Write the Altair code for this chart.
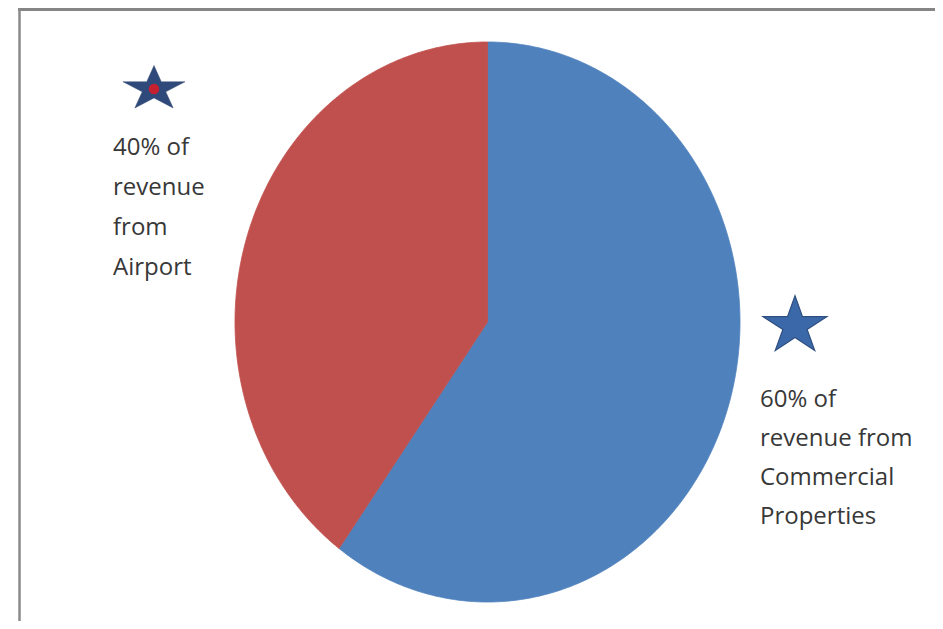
import altair as alt
import numpy as np
import pandas as pd

# ---- data ----
categories = ["Commercial Properties", "Airport"]
shares = [60, 40]
slice_colors = ["#4f81bd", "#c0504d"]
left_lines = ["40% of", "revenue", "from", "Airport"]
right_lines = ["60% of", "revenue from", "Commercial", "Properties"]

# ---- build elliptical pie outline from the shares ----
rows = []
start = 0.0
total = float(sum(shares))
for cat, v in zip(categories, shares):
    end = start + v / total
    steps = max(int((end - start) * 720), 2)
    rows.append(dict(category=cat, i=0, x=0.0, y=0.0))
    for k, t in enumerate(np.linspace(start, end, steps + 1)):
        ang = 2 * np.pi * t
        rows.append(dict(category=cat, i=k + 1, x=float(np.sin(ang)), y=float(np.cos(ang))))
    rows.append(dict(category=cat, i=steps + 2, x=0.0, y=0.0))
    start = end
pie_df = pd.DataFrame(rows)


def star_path(ysc, inner=0.38):
    pts = []
    for j in range(10):
        r = 1.0 if j % 2 == 0 else inner
        a = np.deg2rad(-90 + 36 * j)
        pts.append((r * np.cos(a), r * np.sin(a) * ysc))
    return "M" + " L".join(f"{px:.3f},{py:.3f}" for px, py in pts) + " Z"


W, H = 927, 613

pie = alt.Chart(pie_df).mark_line(filled=True, strokeWidth=0.8).encode(
    x=alt.X("x:Q", axis=None, scale=alt.Scale(domain=[-1, 1], range=[227, 732], nice=False, zero=False)),
    y=alt.Y("y:Q", axis=None, scale=alt.Scale(domain=[-1, 1], range=[594, 34], nice=False, zero=False)),
    order=alt.Order("i:Q"),
    detail="category:N",
    fill=alt.Fill("category:N", legend=None,
                  scale=alt.Scale(domain=categories, range=slice_colors)),
    stroke=alt.Stroke("category:N", legend=None,
                      scale=alt.Scale(domain=categories, range=slice_colors)),
)

one = pd.DataFrame({"a": [0]})

star1 = alt.Chart(one).mark_point(
    shape=star_path(0.72), filled=True, size=4250, color="#2f4a7a",
    stroke="#3a4f75", strokeWidth=0.5, opacity=1
).encode(x=alt.value(146), y=alt.value(81))

star1_dot = alt.Chart(one).mark_point(
    shape="circle", filled=True, size=110, color="#c4202f", opacity=1
).encode(x=alt.value(146), y=alt.value(81))

star2 = alt.Chart(one).mark_point(
    shape=star_path(0.9), filled=True, size=4500, color="#3b68a8",
    stroke="#2e4f80", strokeWidth=1.2, opacity=1
).encode(x=alt.value(787), y=alt.value(318))

txt_left = alt.Chart(one).mark_text(
    align="left", baseline="alphabetic", font="Open Sans", fontSize=24,
    lineHeight=40, color="#383838"
).encode(x=alt.value(105), y=alt.value(147), text=alt.value(left_lines))

txt_right = alt.Chart(one).mark_text(
    align="left", baseline="alphabetic", font="Open Sans", fontSize=24,
    lineHeight=39, color="#383838"
).encode(x=alt.value(752), y=alt.value(399), text=alt.value(right_lines))

frame_top = alt.Chart(one).mark_rule(color="#858585", strokeWidth=3).encode(
    x=alt.value(10), x2=alt.value(934), y=alt.value(1.5))
frame_left = alt.Chart(one).mark_rule(color="#8a8a8a", strokeWidth=2.5).encode(
    x=alt.value(11.5), y=alt.value(0), y2=alt.value(H))

chart = alt.layer(
    pie, frame_top, frame_left, star1, star1_dot, star2, txt_left, txt_right
).properties(
    width=W, height=H,
    autosize=alt.AutoSizeParams(type="none"),
    padding=0,
    background="white",
).configure_view(stroke=None)

chart.save("out.html", embed_options={"renderer": "svg", "actions": False})
